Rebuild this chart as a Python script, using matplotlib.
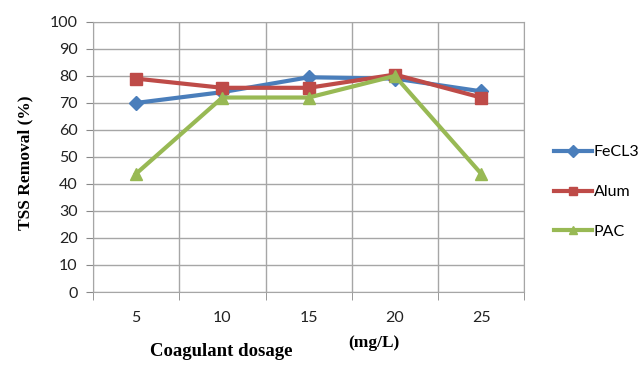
import matplotlib
matplotlib.use('Agg')
import matplotlib.pyplot as plt
import numpy as np

# Data
dosages = ['5', '10', '15', '20', '25']
fecl3 = [70, 74, 79.5, 79, 74.3]
alum = [79, 75.6, 75.6, 80.5, 72]
pac = [43.8, 72, 72, 80, 43.8]

series = [('FeCL3', fecl3, '#4a7ebb', 'D', 7),
          ('Alum', alum, '#be4b48', 's', 8),
          ('PAC', pac, '#98b954', '^', 9)]

fig = plt.figure(figsize=(6.39, 3.65), dpi=100)
ax = fig.add_axes([0.1455, 0.2, 0.675, 0.74])

x = np.arange(len(dosages))
for name, vals, col, mk, ms in series:
    ax.plot(x, vals, color=col, marker=mk, markersize=ms, linewidth=3, label=name)

ax.set_xlim(-0.5, len(dosages) - 0.5)
ax.set_ylim(0, 100)
ax.set_yticks(np.arange(0, 101, 10))
ax.set_xticks(x)
ax.set_xticklabels(dosages)
ax.set_xticks(np.arange(-0.5, len(dosages), 1), minor=True)
ax.tick_params(axis='x', which='major', length=0, pad=14, labelsize=11.5)
ax.tick_params(axis='x', which='minor', length=6, color='#888888')
ax.tick_params(axis='y', length=5, pad=6, color='#888888', labelsize=11.5)
ax.grid(True, which='minor', axis='x', color='#a6a6a6', linewidth=1)
ax.grid(True, which='major', axis='y', color='#a6a6a6', linewidth=1)
for lbl in ax.get_xticklabels() + ax.get_yticklabels():
    lbl.set_family('Lato')
    lbl.set_color('#222222')
for s in ax.spines.values():
    s.set_color('#a6a6a6')

fig.text(0.039, 0.553, 'TSS Removal (%)', family='Liberation Serif', fontweight='bold',
         fontsize=12.5, rotation=90, ha='center', va='center')
fig.text(0.346, 0.036, 'Coagulant dosage', family='Liberation Serif', fontweight='bold',
         fontsize=13.5, ha='center', va='center')
fig.text(0.585, 0.06, '(mg/L)', family='Liberation Serif', fontweight='bold',
         fontsize=12.5, ha='center', va='center')

leg = ax.legend(loc='center left', bbox_to_anchor=(1.035, 0.37), frameon=False,
                prop={'family': 'Lato', 'size': 11.5}, labelspacing=1.6,
                handlelength=2.4, handletextpad=0.1)
for h in leg.legend_handles:
    h.set_markersize(6)

fig.savefig('out.png', dpi=100)
